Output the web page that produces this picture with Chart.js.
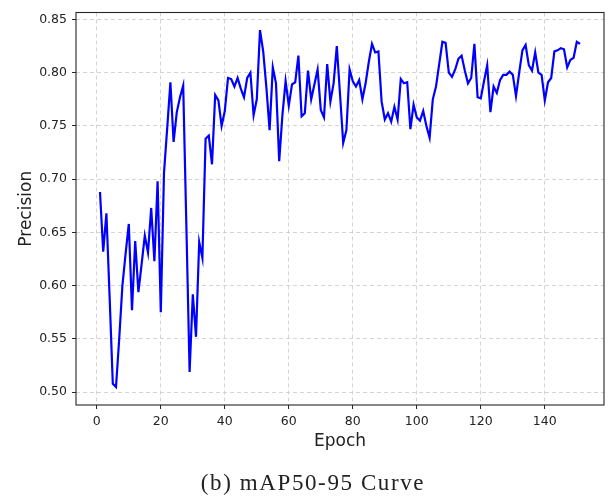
<!DOCTYPE html>
<html>
<head>
<meta charset="utf-8">
<script src="https://cdn.jsdelivr.net/npm/chart.js@4.4.1/dist/chart.umd.min.js"></script>
<style>
html, body { margin: 0; padding: 0; background: #ffffff; }
#wrap { position: relative; width: 608px; height: 501px; overflow: hidden; }
#c { position: absolute; left: 0; top: 0; }
#caption {
  position: absolute; left: 0; top: 470.7px; width: 626px; text-align: center;
  font-family: "Liberation Serif", serif; font-size: 23px; line-height: 23px;
  letter-spacing: 1.6px; color: #222222; white-space: nowrap;
}
</style>
</head>
<body>
<div id="wrap">
  <canvas id="c" width="608" height="501"></canvas>
  <div id="caption">(b) mAP50-95 Curve</div>
</div>
<script>
// ---- data ----
const epochs = [
  1,2,3,4,5,6,7,8,9,10,11,12,13,14,15,16,17,18,19,20,
  21,22,23,24,25,26,27,28,29,30,31,32,33,34,35,36,37,38,39,40,
  41,42,43,44,45,46,47,48,49,50,51,52,53,54,55,56,57,58,59,60,
  61,62,63,64,65,66,67,68,69,70,71,72,73,74,75,76,77,78,79,80,
  81,82,83,84,85,86,87,88,89,90,91,92,93,94,95,96,97,98,99,100,
  101,102,103,104,105,106,107,108,109,110,111,112,113,114,115,116,117,118,119,120,
  121,122,123,124,125,126,127,128,129,130,131,132,133,134,135,136,137,138,139,140,
  141,142,143,144,145,146,147,148,149,150,151
];
const precision = [
  0.688,0.632,0.668,0.590,0.508,0.505,0.550,0.600,0.630,0.658,
  0.577,0.642,0.594,0.620,0.647,0.631,0.673,0.623,0.698,0.575,
  0.706,0.748,0.791,0.735,0.763,0.777,0.788,0.655,0.519,0.592,
  0.552,0.641,0.626,0.738,0.741,0.714,0.779,0.774,0.750,0.764,
  0.795,0.794,0.787,0.795,0.785,0.777,0.795,0.800,0.760,0.775,
  0.840,0.820,0.786,0.746,0.805,0.790,0.717,0.760,0.792,0.769,
  0.789,0.791,0.816,0.759,0.762,0.802,0.775,0.789,0.803,0.765,
  0.758,0.808,0.773,0.790,0.825,0.780,0.734,0.746,0.803,0.792,
  0.787,0.793,0.775,0.790,0.810,0.827,0.819,0.820,0.773,0.756,
  0.762,0.754,0.768,0.756,0.794,0.790,0.791,0.747,0.770,0.758,
  0.755,0.764,0.750,0.739,0.775,0.787,0.808,0.829,0.828,0.800,
  0.796,0.803,0.813,0.816,0.802,0.790,0.795,0.827,0.777,0.776,
  0.792,0.807,0.763,0.787,0.781,0.793,0.798,0.798,0.801,0.798,
  0.778,0.800,0.821,0.826,0.807,0.802,0.819,0.800,0.798,0.774,
  0.791,0.795,0.820,0.821,0.823,0.822,0.805,0.812,0.814,0.829,
  0.827
];
const xTicks = [0, 20, 40, 60, 80, 100, 120, 140];
const yTicks = [0.50, 0.55, 0.60, 0.65, 0.70, 0.75, 0.80, 0.85];
const xTitle = 'Epoch';
const yTitle = 'Precision';

// ---- chart ----
const points = epochs.map((e, i) => ({ x: e, y: precision[i] }));

const framePlugin = {
  id: 'frame',
  afterDraw(chart) {
    const { ctx, chartArea: a } = chart;
    ctx.save();
    ctx.strokeStyle = '#262626';
    ctx.lineWidth = 1.1;
    ctx.setLineDash([]);
    ctx.strokeRect(a.left, a.top, a.right - a.left, a.bottom - a.top);
    ctx.restore();
  }
};

const tickFont = { family: 'DejaVu Sans', size: 12.5 };
const titleFont = { family: 'DejaVu Sans', size: 17 };
const gridOpts = {
  color: '#c9c9c9', lineWidth: 0.8,
  drawTicks: true, tickLength: 4, tickColor: '#262626', tickWidth: 1, tickBorderDash: []
};

new Chart(document.getElementById('c'), {
  type: 'line',
  data: {
    datasets: [{
      data: points,
      borderColor: '#0000ff',
      borderWidth: 2.2,
      pointRadius: 0,
      tension: 0,
      fill: false
    }]
  },
  options: {
    responsive: false,
    animation: false,
    devicePixelRatio: 1,
    layout: { padding: { left: 0, right: 4, top: 12, bottom: 0 } },
    plugins: { legend: { display: false }, tooltip: { enabled: false }, title: { display: false } },
    scales: {
      x: {
        type: 'linear',
        min: -6.5, max: 158.5,
        afterBuildTicks: s => { s.ticks = xTicks.map(v => ({ value: v })); },
        afterFit: s => { s.height = 96; },
        ticks: { font: tickFont, color: '#222222', padding: 5, maxRotation: 0, autoSkip: false,
                 callback: v => String(v) },
        grid: gridOpts,
        border: { display: false, dash: [4, 3] },
        title: { display: true, text: xTitle, font: titleFont, color: '#222222',
                 padding: { top: 0, bottom: 49.2 } }
      },
      y: {
        type: 'linear',
        min: 0.488, max: 0.8565,
        afterBuildTicks: s => { s.ticks = yTicks.map(v => ({ value: v })); },
        afterFit: s => { s.width = 76; },
        ticks: { font: tickFont, color: '#222222', padding: 5, autoSkip: false,
                 callback: v => Number(v).toFixed(2) },
        grid: gridOpts,
        border: { display: false, dash: [4, 3] },
        title: { display: true, text: yTitle, font: titleFont, color: '#222222',
                 padding: { top: 16.4, bottom: 0 } }
      }
    }
  },
  plugins: [framePlugin]
});
</script>
</body>
</html>
